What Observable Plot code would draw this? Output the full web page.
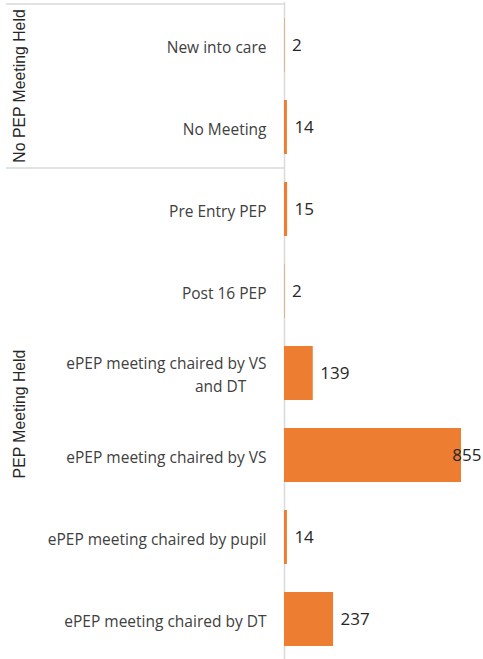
<!DOCTYPE html>
<html><head><meta charset="utf-8">
<script src="https://cdn.jsdelivr.net/npm/d3@7"></script>
<script src="https://cdn.jsdelivr.net/npm/@observablehq/plot@0.6"></script>
<style>html,body{margin:0;padding:0;overflow:hidden;background:#fff}</style>
</head><body><div id="chart"></div>
<script>
const categories = ["New into care","No Meeting","Pre Entry PEP","Post 16 PEP","ePEP meeting chaired by VS and DT","ePEP meeting chaired by VS","ePEP meeting chaired by pupil","ePEP meeting chaired by DT"];
const values = [2,14,15,2,139,855,14,237];
const groups = ["No PEP Meeting Held","No PEP Meeting Held","PEP Meeting Held","PEP Meeting Held","PEP Meeting Held","PEP Meeting Held","PEP Meeting Held","PEP Meeting Held"];
const groupNames = ["No PEP Meeting Held","PEP Meeting Held"];
const tickLabels = {"ePEP meeting chaired by VS and DT": "ePEP meeting chaired by VS\nand DT\u00a0\u00a0\u00a0\u00a0\u00a0"};

const data = categories.map((c,i)=>({category:c, value:values[i], group:groups[i]}));
const maxV = d3.max(values);

function groupMark(index, scales, vals, dims) {
  const y = scales.y;
  const bw = typeof y.bandwidth === "function" ? y.bandwidth() : 0;
  const step = y(categories[1]) - y(categories[0]);
  const gap = (step - bw) / 2;
  const g = d3.create("svg:g");
  const x0 = dims.marginLeft;
  for (const name of groupNames) {
    const cats = categories.filter((c,i)=>groups[i]===name);
    const top = y(cats[0]) - gap;
    const bottom = y(cats[cats.length-1]) + bw + gap;
    g.append("line").attr("x1",6).attr("x2",x0).attr("y1",top).attr("y2",top)
      .attr("stroke","#d9d9d9").attr("stroke-width",1.5);
    const cy = (top + bottom) / 2;
    g.append("text").attr("transform",`translate(19,${cy}) rotate(-90)`)
      .attr("text-anchor","middle").attr("dominant-baseline","central")
      .attr("font-family","'Liberation Sans', Arial, sans-serif").attr("font-size",15.8)
      .attr("fill","#262626").text(name);
  }
  return g.node();
}

const chart = Plot.plot({
  width: 483, height: 663,
  marginTop: 2, marginBottom: 1, marginLeft: 284, marginRight: 22,
  x: {domain: [0, maxV], axis: null},
  y: {domain: categories, paddingInner: 0.34, paddingOuter: 0.17, axis: null},
  style: {fontFamily: "'Open Sans', sans-serif", color: "#404040", background: "#fff"},
  marks: [
    Plot.ruleX([0], {stroke: "#d9d9d9", strokeWidth: 1.5}),
    Plot.barX(data, {y: "category", x: "value", fill: "#ED7D31"}),
    Plot.axisY({tickSize: 0, tickPadding: 18, fontSize: 15.5, lineHeight: 1.48, label: null, tickFormat: d => tickLabels[d] ?? d, fill: "#404040"}),
    Plot.text(data.filter(d => d.value < maxV), {y: "category", x: "value", text: d => String(d.value), textAnchor: "start", dx: 7, fontSize: 17, fill: "#262626"}),
    Plot.text(data.filter(d => d.value === maxV), {y: "category", x: "value", text: d => String(d.value), textAnchor: "end", dx: 20, fontSize: 17, fill: "#262626"}),
    groupMark
  ]
});
document.getElementById("chart").appendChild(chart);
</script>
</body></html>
